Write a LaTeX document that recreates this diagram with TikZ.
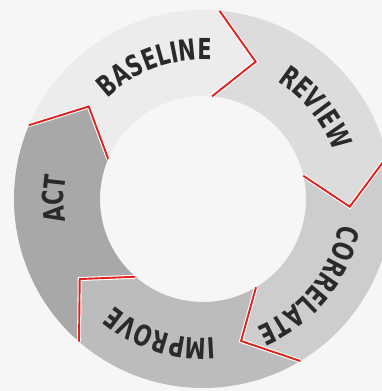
\documentclass[tikz,border=0pt]{standalone}
\usepackage{fontspec}
\usetikzlibrary{decorations.text}

\newfontfamily\segfont{DejaVu Sans Condensed Bold}[FakeStretch=0.8]
\newcommand\labelfont{\segfont\fontsize{29}{30}\selectfont}

\definecolor{bggray}{HTML}{F6F6F6}
\definecolor{fillbase}{HTML}{ECECEC}
\definecolor{fillreview}{HTML}{DCDCDC}
\definecolor{fillcorr}{HTML}{CDCDCD}
\definecolor{fillimprove}{HTML}{BCBCBC}
\definecolor{fillact}{HTML}{A8A8A8}
\definecolor{edgered}{HTML}{E0221E}
\definecolor{txtgray}{HTML}{2A2A2A}

\begin{document}
\begin{tikzpicture}[x=1pt, y=1pt,
  haloline/.style={draw=white, line width=4pt},
  redline/.style={draw=edgered, line width=1.9pt},
  seglabel/.style={decorate, decoration={text along path, text align=center, text color=txtgray}}]

  \def\Ro{189}
  \def\Ri{103}
  \def\Rm{147}
  \def\Rt{139}

  \fill[bggray] (-203,-192) rectangle (179,199);
  \useasboundingbox (-203,-192) rectangle (179,199);

  % ring pieces, clockwise, each one ends in a point
  \foreach \a/\col in {157/fillbase, 85/fillreview, 13/fillcorr, -59/fillimprove, -131/fillact}{
    \fill[\col] (\a:\Ro) arc[start angle=\a, end angle=\a-72, radius=\Ro]
      -- (\a-88:\Rm) -- (\a-72:\Ri)
      arc[start angle=\a-72, end angle=\a, radius=\Ri] -- (\a-16:\Rm) -- cycle;
  }

  % red joints
  \foreach \b in {157,85,13,-59,-131}{
    \draw[haloline] (\b:\Ro) -- (\b-16:\Rm) -- (\b:\Ri);
    \draw[redline] (\b:\Ro) -- (\b-16:\Rm) -- (\b:\Ri);
  }

  % labels
  \path[seglabel, decoration={text={|\labelfont|BASELINE}}]
    (155:\Rt) arc[start angle=155, end angle=65, radius=\Rt];
  \path[seglabel, decoration={text={|\labelfont|REVIEW}}]
    (84:\Rt) arc[start angle=84, end angle=-6, radius=\Rt];
  \path[seglabel, decoration={text={|\labelfont|CORRELATE}}]
    (6:\Rt) arc[start angle=6, end angle=-84, radius=\Rt];
  \path[seglabel, decoration={text={|\labelfont|IMPROVE}}]
    (-62.5:\Rt) arc[start angle=-62.5, end angle=-152.5, radius=\Rt];
  \path[seglabel, decoration={text={|\labelfont|ACT}}]
    (225:\Rt) arc[start angle=225, end angle=135, radius=\Rt];

\end{tikzpicture}
\end{document}
